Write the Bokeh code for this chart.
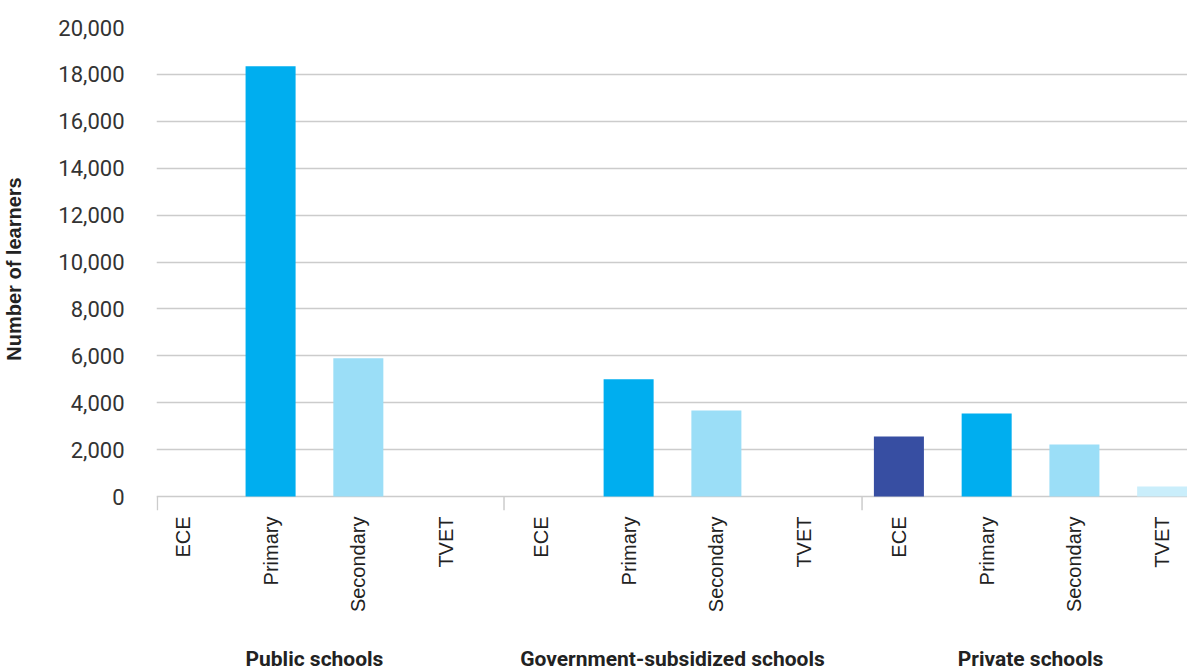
import math
from bokeh.plotting import figure
from bokeh.models import (ColumnDataSource, FactorRange, Range1d, FixedTicker,
                          NumeralTickFormatter, CategoricalAxis)
from bokeh.embed import file_html
from bokeh.resources import INLINE

# ---- data ----
groups = ["Public schools", "Government-subsidized schools", "Private schools"]
levels = ["ECE", "Primary", "Secondary", "TVET"]
public_values = [0, 18350, 5900, 0]
subsidized_values = [0, 5000, 3670, 0]
private_values = [2560, 3540, 2220, 430]
level_colors = ["#374EA2", "#00AEEF", "#9BDEF7", "#CAEEFB"]
y_ticks = list(range(0, 20001, 2000))

series = [public_values, subsidized_values, private_values]
x = [(g, l) for g in groups for l in levels]
vals = [v for s in series for v in s]
cols = [level_colors[i] for _ in groups for i in range(len(levels))]
src = ColumnDataSource(dict(x=x, top=vals, color=cols))

n = len(levels)
GP = 0.08
PAD = -0.2
FW = 1032
xr = FactorRange(*x, group_padding=GP, factor_padding=0.0,
                 range_padding=PAD, range_padding_units="absolute")
Y0 = -597
p = figure(x_range=xr, y_range=Range1d(Y0, 20000),
           frame_width=FW, frame_height=483,
           min_border_left=155, min_border_top=27, min_border_right=0,
           min_border_bottom=161,
           output_backend="svg", toolbar_location=None,
           background_fill_color="white", border_fill_color="white")
p.outline_line_color = None

# a range of the groups alone, aligned with the group centres of xr
span = n * len(groups) + GP * (len(groups) - 1) - 2 * PAD     # synthetic width of xr
px_per_unit = FW / span
first_c = (n / 2 + PAD) * px_per_unit                           # px from frame left
gstart = 0.5 - first_c / ((n + GP) * px_per_unit)
p.extra_x_ranges = {"groups": FactorRange(*groups, range_padding=-gstart,
                                          range_padding_units="absolute")}

p.xgrid.grid_line_color = None
p.ygrid.grid_line_color = "#cccccc"
p.ygrid.grid_line_width = 1.5

p.vbar(x="x", top="top", bottom=0, width=0.57, fill_color="color",
       line_color=None, source=src)

# group separators (short lines below the zero line)
seps = [-PAD + 0.01] + [n * i + GP * (i - 0.5) + 0.12 for i in range(1, len(groups))]
p.segment(x0=seps, x1=seps, y0=[0] * len(seps), y1=[Y0] * len(seps),
          line_color="#cccccc", line_width=1.5)

# y axis
ya = p.yaxis[0]
ya.ticker = FixedTicker(ticks=y_ticks)
ya.formatter = NumeralTickFormatter(format="0,0")
ya.axis_line_color = None
ya.major_tick_line_color = None
ya.minor_tick_line_color = None
ya.major_label_standoff = 26
ya.major_label_text_font = "Roboto"
ya.major_label_text_font_size = "22px"
ya.major_label_text_color = "#333333"
ya.axis_label = "Number of learners"
ya.axis_label_text_font = "Liberation Sans"
ya.axis_label_text_font_style = "bold"
ya.axis_label_text_font_size = "20px"
ya.axis_label_text_color = "#222222"
ya.axis_label_standoff = 30

# x axis (level labels)
xa = p.xaxis[0]
xa.axis_line_color = None
xa.major_tick_line_color = None
xa.minor_tick_line_color = None
xa.separator_line_color = None
xa.major_label_orientation = math.pi / 2
xa.major_label_standoff = 0
xa.major_label_text_font = "Liberation Sans"
xa.major_label_text_font_size = "20px"
xa.major_label_text_color = "#222222"
xa.group_text_color = None
xa.group_text_font_size = "1px"

# second axis for the group labels
gax = CategoricalAxis(x_range_name="groups")
gax.axis_line_color = None
gax.major_tick_line_color = None
gax.minor_tick_line_color = None
gax.major_label_standoff = 25
gax.major_label_text_font = "Roboto"
gax.major_label_text_font_style = "bold"
gax.major_label_text_font_size = "21px"
gax.major_label_text_color = "#222222"
p.add_layout(gax, "below")

open("out.html", "w").write(file_html(p, INLINE))
